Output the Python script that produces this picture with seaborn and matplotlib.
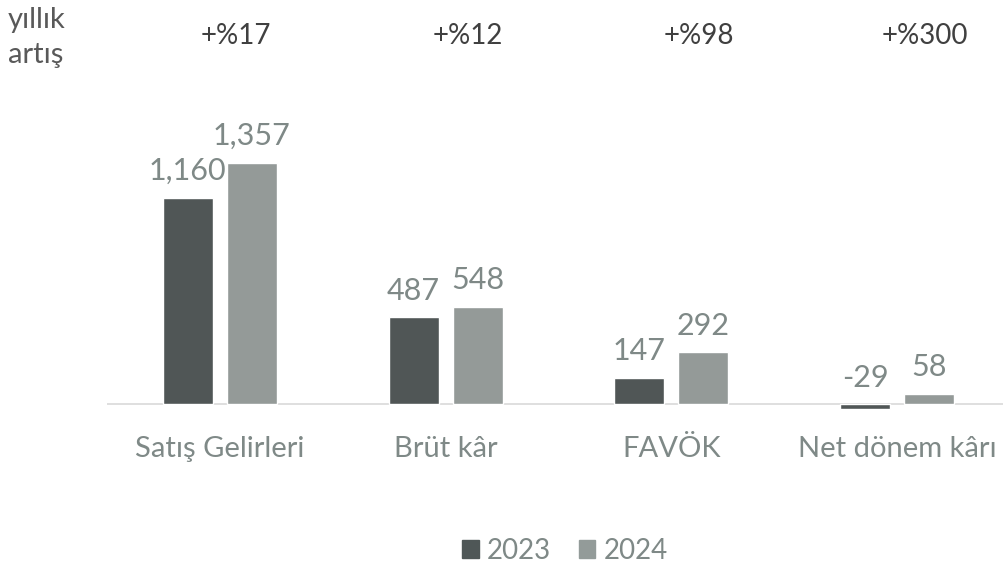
import seaborn as sns
import matplotlib.pyplot as plt
import matplotlib.transforms as mtrans
import pandas as pd
from matplotlib.patches import Patch

kategoriler = ['Satış Gelirleri', 'Brüt kâr', 'FAVÖK', 'Net dönem kârı']
yil_2023 = [1160, 487, 147, -29]
yil_2024 = [1357, 548, 292, 58]
artislar = ['+%17', '+%12', '+%98', '+%300']
yillar = ['2023', '2024']

renkler = ['#4f5757', '#939b99']
yazi_rengi = '#7f8987'

df = pd.DataFrame({
    'kategori': kategoriler * 2,
    'deger': yil_2023 + yil_2024,
    'yil': [yillar[0]] * 4 + [yillar[1]] * 4,
})

sns.set_style('white')
plt.rcParams['font.family'] = ['Lato', 'DejaVu Sans']

fig = plt.figure(figsize=(10.04, 5.69), dpi=100)
ax = fig.add_axes([107 / 1004, 1 - 421.8 / 569, 903 / 1004, 266.7 / 569])

sns.barplot(data=df, x='kategori', y='deger', hue='yil', palette=renkler,
            width=0.568, gap=0.218, ax=ax, legend=False)

ax.set_xlim(-0.5, 3.5)
ax.set_ylim(-100, 1400)
ax.axhline(0, color='#d9d9d9', lw=1.2, zorder=0)
for s in ax.spines.values():
    s.set_visible(False)
ax.set_yticks([])
ax.set_xlabel('')
ax.set_ylabel('')
ax.tick_params(axis='x', length=0, pad=10, labelsize=21, labelcolor=yazi_rengi)

# veri etiketleri
for cont in ax.containers:
    for bar in cont:
        v = bar.get_height()
        x = bar.get_x() + bar.get_width() / 2
        ax.annotate(f'{v:,.0f}', (x, max(v, 0)), xytext=(0, 9), textcoords='offset points',
                    ha='center', va='bottom', fontsize=22, color=yazi_rengi)

# yıllık artış
tr = mtrans.blended_transform_factory(ax.transData, fig.transFigure)
kayma = [0.07, 0.10, 0.12, 0.124]
for i, t in enumerate(artislar):
    ax.text(i + kayma[i], 1 - 36 / 569, t, transform=tr, ha='center', va='center',
            fontsize=20, color='#404040')

fig.text(8 / 1004, 1 - 20 / 569, 'yıllık', ha='left', va='center', fontsize=21, color='#595959')
fig.text(8 / 1004, 1 - 55 / 569, 'artış', ha='left', va='center', fontsize=21, color='#595959')

# lejant
handles = [Patch(color=c, label=l) for c, l in zip(renkler, yillar)]
leg = fig.legend(handles=handles, loc='center', bbox_to_anchor=(565 / 1004, 1 - 551 / 569), ncol=2,
                 frameon=False, fontsize=20, handlelength=0.6, handleheight=0.6,
                 handletextpad=0.3, columnspacing=1.0)
for t in leg.get_texts():
    t.set_color(yazi_rengi)

fig.savefig('out.png', dpi=100)
